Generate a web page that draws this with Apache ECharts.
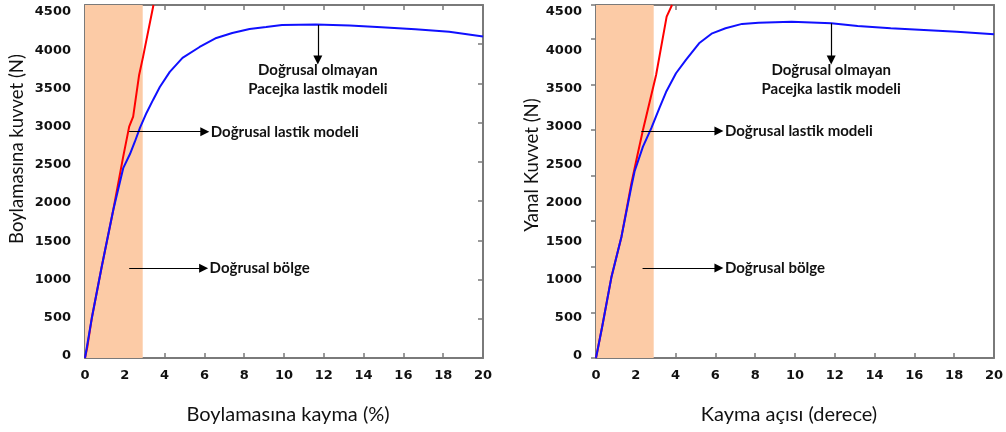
<!DOCTYPE html>
<html><head><meta charset="utf-8">
<script src="https://cdn.jsdelivr.net/npm/echarts@6/dist/echarts.min.js"></script>
<style>html,body{margin:0;padding:0;background:#fff}#c{width:1006px;height:432px}</style>
</head><body><div id="c"></div>
<script>
// ---- tick labels ----
const xTicks = [0, 2, 4, 6, 8, 10, 12, 14, 16, 18, 20];
const yTicks = [0, 500, 1000, 1500, 2000, 2500, 3000, 3500, 4000, 4500];
// right panel's frame ticks in the source image are drawn on a different (misaligned) scale
const rightFrameTickMax = 3870;

// ---- left panel: longitudinal slip (%) vs longitudinal force (N) ----
const leftRedSlip  = [0, 0.12, 0.34, 0.84, 1.42, 1.92, 2.22, 2.42, 2.72, 2.92, 3.44];
const leftRedForce = [0, 144, 506, 1164, 1887, 2567, 2949, 3077, 3608, 3842, 4500];
const leftBlueSlip  = [0, 0.34, 0.84, 1.42, 1.92, 2.26, 2.51, 2.76, 3.09, 3.42, 3.76, 4.26, 4.9, 5.76, 6.6, 7.4, 8.27, 9.1, 9.9, 11.6, 13.3, 14.9, 16.6, 18.3, 20];
const leftBlueForce = [0, 506, 1164, 1887, 2420, 2600, 2760, 2933, 3124, 3290, 3455, 3647, 3825, 3965, 4080, 4144, 4195, 4220, 4246, 4250, 4240, 4216, 4190, 4160, 4097];

// ---- right panel: slip angle (deg) vs lateral force (N) ----
const rightRedAngle = [0, 0.31, 0.78, 1.28, 1.78, 2.03, 2.36, 3.02, 3.55, 3.82];
const rightRedForce = [0, 399, 1037, 1547, 2227, 2525, 2907, 3608, 4352, 4500];
const rightBlueAngle = [0, 0.31, 0.78, 1.28, 1.78, 1.94, 2.36, 2.78, 3.19, 3.52, 4.02, 4.52, 5.18, 5.84, 6.51, 7.34, 8.17, 9.83, 11.82, 13.15, 14.81, 16.48, 18.14, 20];
const rightBlueForce = [0, 399, 1037, 1547, 2190, 2380, 2694, 2930, 3190, 3390, 3630, 3800, 4012, 4139, 4203, 4259, 4275, 4288, 4267, 4233, 4203, 4182, 4160, 4127];

// linear region extent (x units)
const linearRegionEnd = 2.9;

// annotations (data units): [x1, y1, x2, y2, text]
const leftAnnotations = [
  [2.22, 2885, 6.02, 2885, 'Doğrusal lastik modeli'],
  [2.22, 1144, 5.96, 1144, 'Doğrusal bölge'],
  [11.7, 4246, 11.7, 3800, 'Doğrusal olmayan\nPacejka lastik modeli']
];
const rightAnnotations = [
  [2.28, 2894, 6.18, 2894, 'Doğrusal lastik modeli'],
  [2.34, 1148, 6.18, 1148, 'Doğrusal bölge'],
  [11.82, 4267, 11.82, 3800, 'Doğrusal olmayan\nPacejka lastik modeli']
];

const titles = {
  leftX: 'Boylamasına kayma (%)',
  leftY: 'Boylamasına kuvvet (N)',
  rightX: 'Kayma açısı (derece)',
  rightY: 'Yanal Kuvvet (N)'
};

// ---- helpers ----
const zip = (a, b) => a.map((v, i) => [v, b[i]]);
const xMin = xTicks[0], xMax = xTicks[xTicks.length - 1], xStep = xTicks[1] - xTicks[0];
const yMin = yTicks[0], yMax = yTicks[yTicks.length - 1], yStep = yTicks[1] - yTicks[0];

const FRAME = '#7a7a7a';
const tickFont = { fontFamily: 'DejaVu Sans', fontWeight: 'bold', fontSize: 13, color: '#111' };
const annFont = { fontFamily: 'Lato', fontWeight: 'bold', fontSize: 15, color: '#111', lineHeight: 19 };
const xTitleFont = { fontFamily: 'Lato', fontSize: 20, fill: '#111' };
const yTitleFont = { fontFamily: 'Lato', fontSize: 18.5, fill: '#111' };

function frameX(grid, pos, labels) {
  return {
    type: 'value', gridIndex: grid, position: pos, min: xMin, max: xMax, interval: xStep,
    axisLine: { show: true, onZero: false, lineStyle: { color: FRAME, width: 2 } },
    axisTick: { show: true, inside: true, length: 5, lineStyle: { color: FRAME, width: 1.5 } },
    axisLabel: labels ? Object.assign({ show: true, margin: 11, formatter: v => String(v) }, tickFont) : { show: false },
    splitLine: { show: false }
  };
}
function frameY(grid, pos, ticks) {
  return {
    type: 'value', gridIndex: grid, position: pos, min: yMin, max: yMax, interval: yStep,
    axisLine: { show: true, onZero: false, lineStyle: { color: FRAME, width: 2 } },
    axisTick: { show: ticks, inside: true, length: 5, lineStyle: { color: FRAME, width: 1.5 } },
    axisLabel: { show: false }, splitLine: { show: false }
  };
}
function tickOnlyY(grid, pos) {
  return {
    type: 'value', gridIndex: grid, position: pos, min: 0, max: rightFrameTickMax, interval: yStep,
    axisLine: { show: false },
    axisTick: { show: true, inside: true, length: 5, lineStyle: { color: FRAME, width: 1.5 } },
    axisLabel: { show: false }, splitLine: { show: false }
  };
}
function labelY(grid) {
  return {
    type: 'value', gridIndex: grid, position: 'left', min: yMin, max: yMax, interval: yStep,
    axisLine: { show: false }, axisTick: { show: false }, splitLine: { show: false },
    axisLabel: Object.assign({ show: true, margin: 14, formatter: v => String(v) }, tickFont)
  };
}
function hiddenX(grid) {
  return { type: 'value', gridIndex: grid, min: xMin, max: xMax, show: false };
}
function arrows(list) {
  return {
    silent: true, animation: false,
    symbol: ['none', 'triangle'], symbolSize: [9, 9],
    lineStyle: { color: '#000', width: 1.2, type: 'solid' },
    label: Object.assign({ show: true, position: 'end', distance: 6, formatter: p => p.name }, annFont),
    data: list.map(a => {
      const vertical = a[0] === a[2];
      const lab = vertical ? { distance: 1 } : { distance: 6 };
      return [
        { coord: [a[0], a[1]], name: a[4], label: lab },
        { coord: [a[2], a[3]], name: a[4], label: lab }
      ];
    })
  };
}
function region() {
  return {
    silent: true,
    itemStyle: { color: '#FCCBA6', opacity: 1 },
    data: [[{ xAxis: xMin }, { xAxis: linearRegionEnd }]]
  };
}
function line(name, data, color, xi, yi, extra) {
  return Object.assign({
    type: 'line', name, data, xAxisIndex: xi, yAxisIndex: yi,
    showSymbol: false, symbol: 'none', smooth: false, clip: true, animation: false,
    lineStyle: { color, width: 2 }, itemStyle: { color }, z: 3
  }, extra || {});
}

const option = {
  animation: false,
  backgroundColor: '#fff',
  grid: [
    { left: 85, top: 5, width: 398, height: 353 },
    { left: 596, top: 5, width: 401, height: 353 },
    { left: 85, top: 12, width: 398, height: 344 },
    { left: 596, top: 12, width: 401, height: 344 }
  ],
  xAxis: [
    frameX(0, 'bottom', true), frameX(0, 'top', false),
    frameX(1, 'bottom', true), frameX(1, 'top', false),
    hiddenX(2), hiddenX(3)
  ],
  yAxis: [
    frameY(0, 'left', true), frameY(0, 'right', true),
    frameY(1, 'left', false), frameY(1, 'right', false),
    tickOnlyY(1, 'left'), tickOnlyY(1, 'right'),
    labelY(2), labelY(3)
  ],
  series: [
    line('left-region', [], '#000', 0, 0, { markArea: region(), z: 1 }),
    line('right-region', [], '#000', 2, 2, { markArea: region(), z: 1 }),
    line('left-linear', zip(leftRedSlip, leftRedForce), '#FF0000', 0, 0),
    line('left-pacejka', zip(leftBlueSlip, leftBlueForce), '#1010FF', 0, 0, { markLine: arrows(leftAnnotations), z: 4 }),
    line('right-linear', zip(rightRedAngle, rightRedForce), '#FF0000', 2, 2),
    line('right-pacejka', zip(rightBlueAngle, rightBlueForce), '#1010FF', 2, 2, { markLine: arrows(rightAnnotations), z: 4 })
  ],
  graphic: [
    { type: 'text', x: 288, y: 415, style: Object.assign({ text: titles.leftX, textAlign: 'center', textVerticalAlign: 'middle' }, xTitleFont) },
    { type: 'text', x: 789, y: 415, style: Object.assign({ text: titles.rightX, textAlign: 'center', textVerticalAlign: 'middle' }, xTitleFont) },
    { type: 'text', x: 17, y: 149, rotation: Math.PI / 2, style: Object.assign({ text: titles.leftY, textAlign: 'center', textVerticalAlign: 'middle' }, yTitleFont) },
    { type: 'text', x: 532, y: 165, rotation: Math.PI / 2, style: Object.assign({ text: titles.rightY, textAlign: 'center', textVerticalAlign: 'middle' }, yTitleFont) }
  ]
};

const chart = echarts.init(document.getElementById('c'), null, { renderer: 'canvas' });
chart.setOption(option);
</script>
</body></html>
